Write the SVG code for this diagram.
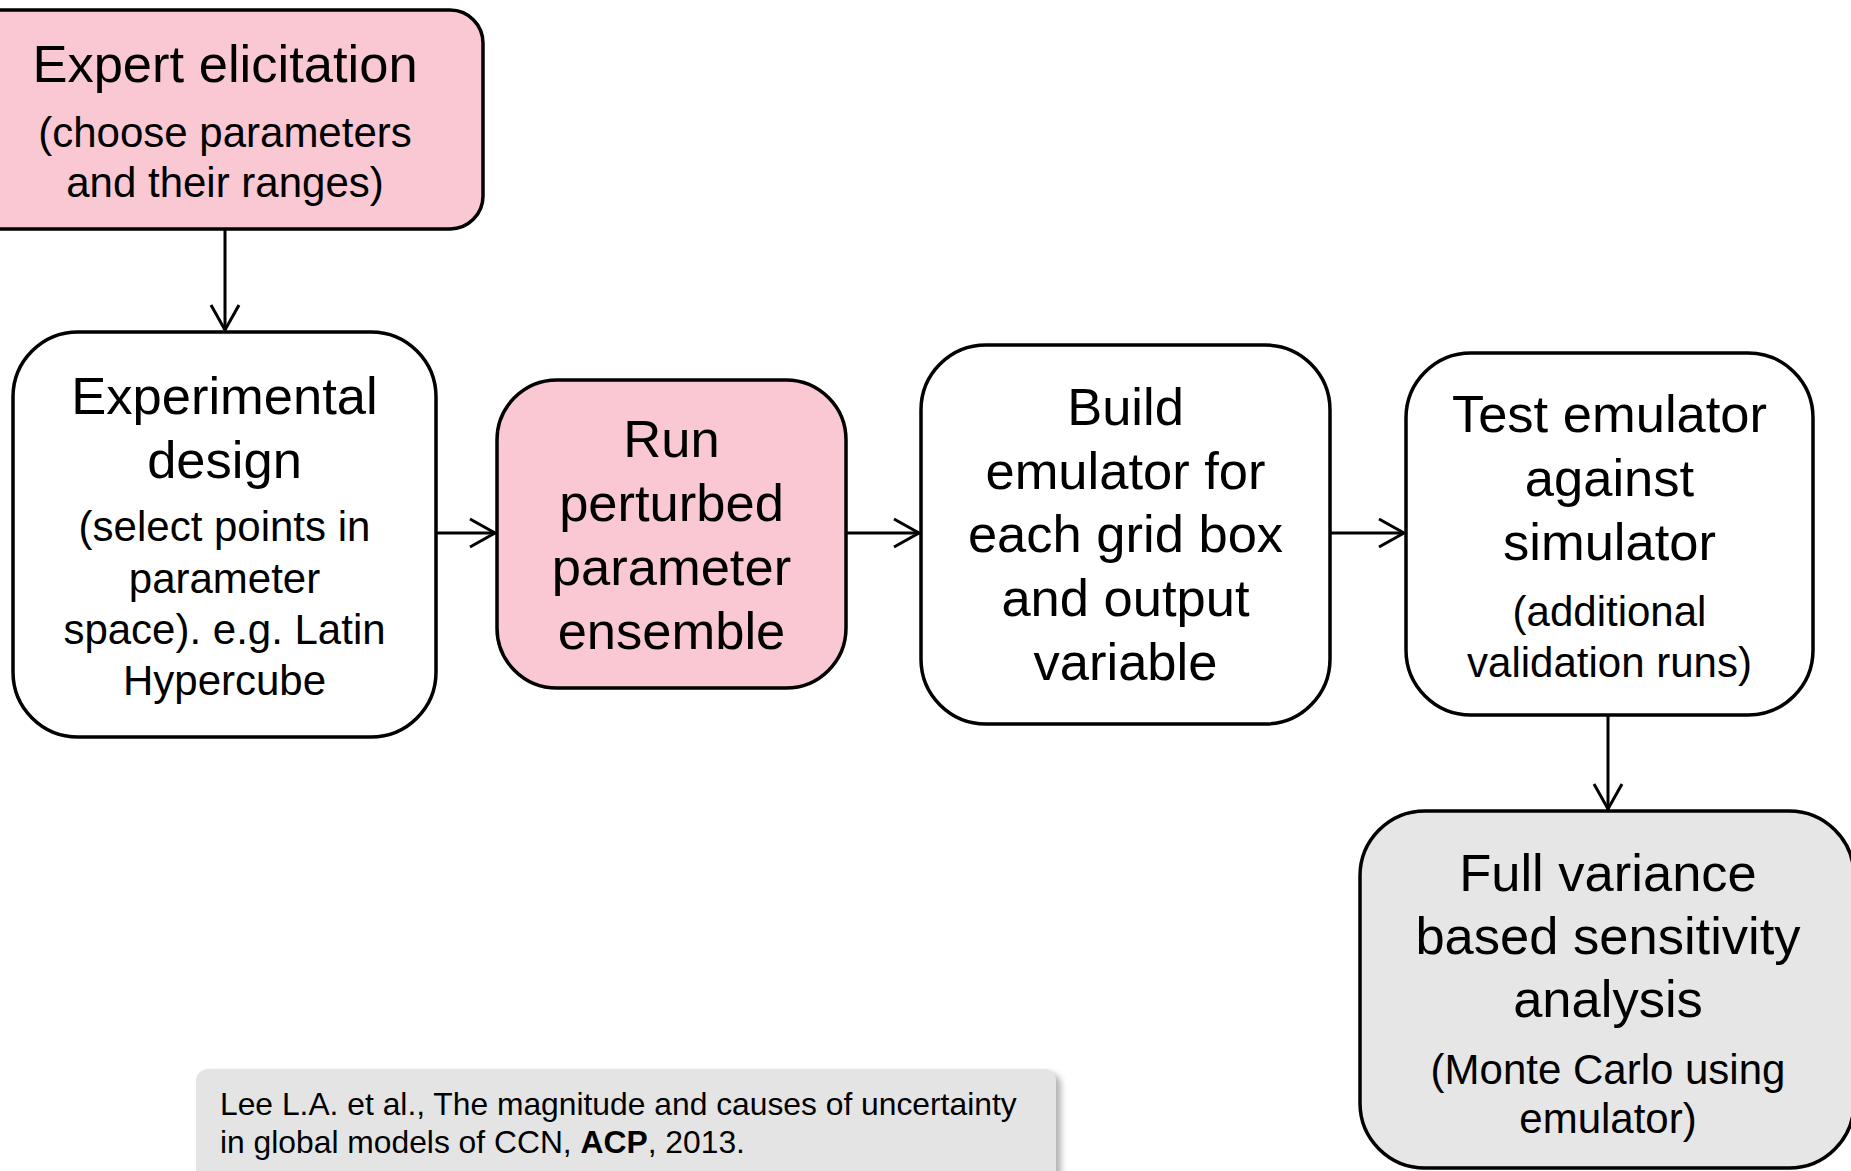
<svg xmlns="http://www.w3.org/2000/svg" width="1851" height="1171" viewBox="0 0 1851 1171">
<style>
.box{stroke:#000;stroke-width:3.5}
.pink{fill:#F9C8D2}
.white{fill:#FFFFFF}
.grey{fill:#E6E6E6}
.big{font-family:"Liberation Sans",Arial,sans-serif;font-size:52.5px;fill:#000;text-anchor:middle}
.small{font-family:"Liberation Sans",Arial,sans-serif;font-size:42px;fill:#000;text-anchor:middle}
.cite{font-family:"Liberation Sans",Arial,sans-serif;font-size:31.8px;fill:#000}
.conn{stroke:#000;stroke-width:3;fill:none}
</style>
<defs>
<marker id="arr" markerUnits="userSpaceOnUse" markerWidth="40" markerHeight="40" refX="0" refY="0" viewBox="-30 -20 34 40" orient="auto" overflow="visible">
<path d="M -25 -14 L 0 0 L -25 14" fill="none" stroke="#000" stroke-width="3"/>
</marker>
<filter id="sh" x="-5%" y="-20%" width="115%" height="150%">
<feDropShadow dx="5" dy="4" stdDeviation="3" flood-color="#808080" flood-opacity="0.6"/>
</filter>
</defs>
<rect width="1851" height="1171" fill="#FFFFFF"/>
<g id="connectors">
<line class="conn" x1="225" y1="229" x2="225" y2="330" marker-end="url(#arr)"/>
<line class="conn" x1="436" y1="533" x2="495" y2="533" marker-end="url(#arr)"/>
<line class="conn" x1="846" y1="533" x2="919" y2="533" marker-end="url(#arr)"/>
<line class="conn" x1="1330" y1="533" x2="1404" y2="533" marker-end="url(#arr)"/>
<line class="conn" x1="1608" y1="715" x2="1608" y2="809" marker-end="url(#arr)"/>
</g>
<g id="expert">
<rect class="box pink" x="-33" y="10" width="516" height="219" rx="33"/>
<text class="big" x="225" y="82">Expert elicitation</text>
<text class="small" x="225" y="147">(choose parameters</text>
<text class="small" x="225" y="197">and their ranges)</text>
</g>
<g id="experimental">
<rect class="box white" x="13" y="332" width="423" height="405" rx="65"/>
<text class="big" x="224.5" y="414">Experimental</text>
<text class="big" x="224.5" y="478">design</text>
<text class="small" x="224.5" y="541">(select points in</text>
<text class="small" x="224.5" y="592.5">parameter</text>
<text class="small" x="224.5" y="644">space). e.g. Latin</text>
<text class="small" x="224.5" y="694.5">Hypercube</text>
</g>
<g id="run">
<rect class="box pink" x="497" y="380" width="349" height="308" rx="60"/>
<text class="big" x="671.5" y="457">Run</text>
<text class="big" x="671.5" y="521">perturbed</text>
<text class="big" x="671.5" y="585">parameter</text>
<text class="big" x="671.5" y="649">ensemble</text>
</g>
<g id="build">
<rect class="box white" x="921" y="345" width="409" height="379" rx="65"/>
<text class="big" x="1125.5" y="425">Build</text>
<text class="big" x="1125.5" y="488.5">emulator for</text>
<text class="big" x="1125.5" y="552">each grid box</text>
<text class="big" x="1125.5" y="616">and output</text>
<text class="big" x="1125.5" y="680">variable</text>
</g>
<g id="test">
<rect class="box white" x="1406" y="353" width="407" height="362" rx="65"/>
<text class="big" x="1609.5" y="432">Test emulator</text>
<text class="big" x="1609.5" y="496">against</text>
<text class="big" x="1609.5" y="560">simulator</text>
<text class="small" x="1609.5" y="626">(additional</text>
<text class="small" x="1609.5" y="677">validation runs)</text>
</g>
<g id="full">
<rect class="box grey" x="1360" y="811" width="494" height="357" rx="65"/>
<text class="big" x="1608" y="891">Full variance</text>
<text class="big" x="1608" y="954">based sensitivity</text>
<text class="big" x="1608" y="1017">analysis</text>
<text class="small" x="1608" y="1084">(Monte Carlo using</text>
<text class="small" x="1608" y="1133">emulator)</text>
</g>
<g id="citation">
<rect x="196" y="1069" width="860" height="140" rx="12" fill="#E4E4E4" filter="url(#sh)"/>
<text class="cite" x="220" y="1115">Lee L.A. et al., The magnitude and causes of uncertainty</text>
<text class="cite" x="220" y="1153">in global models of CCN, <tspan font-weight="bold">ACP</tspan>, 2013.</text>
</g>
</svg>
